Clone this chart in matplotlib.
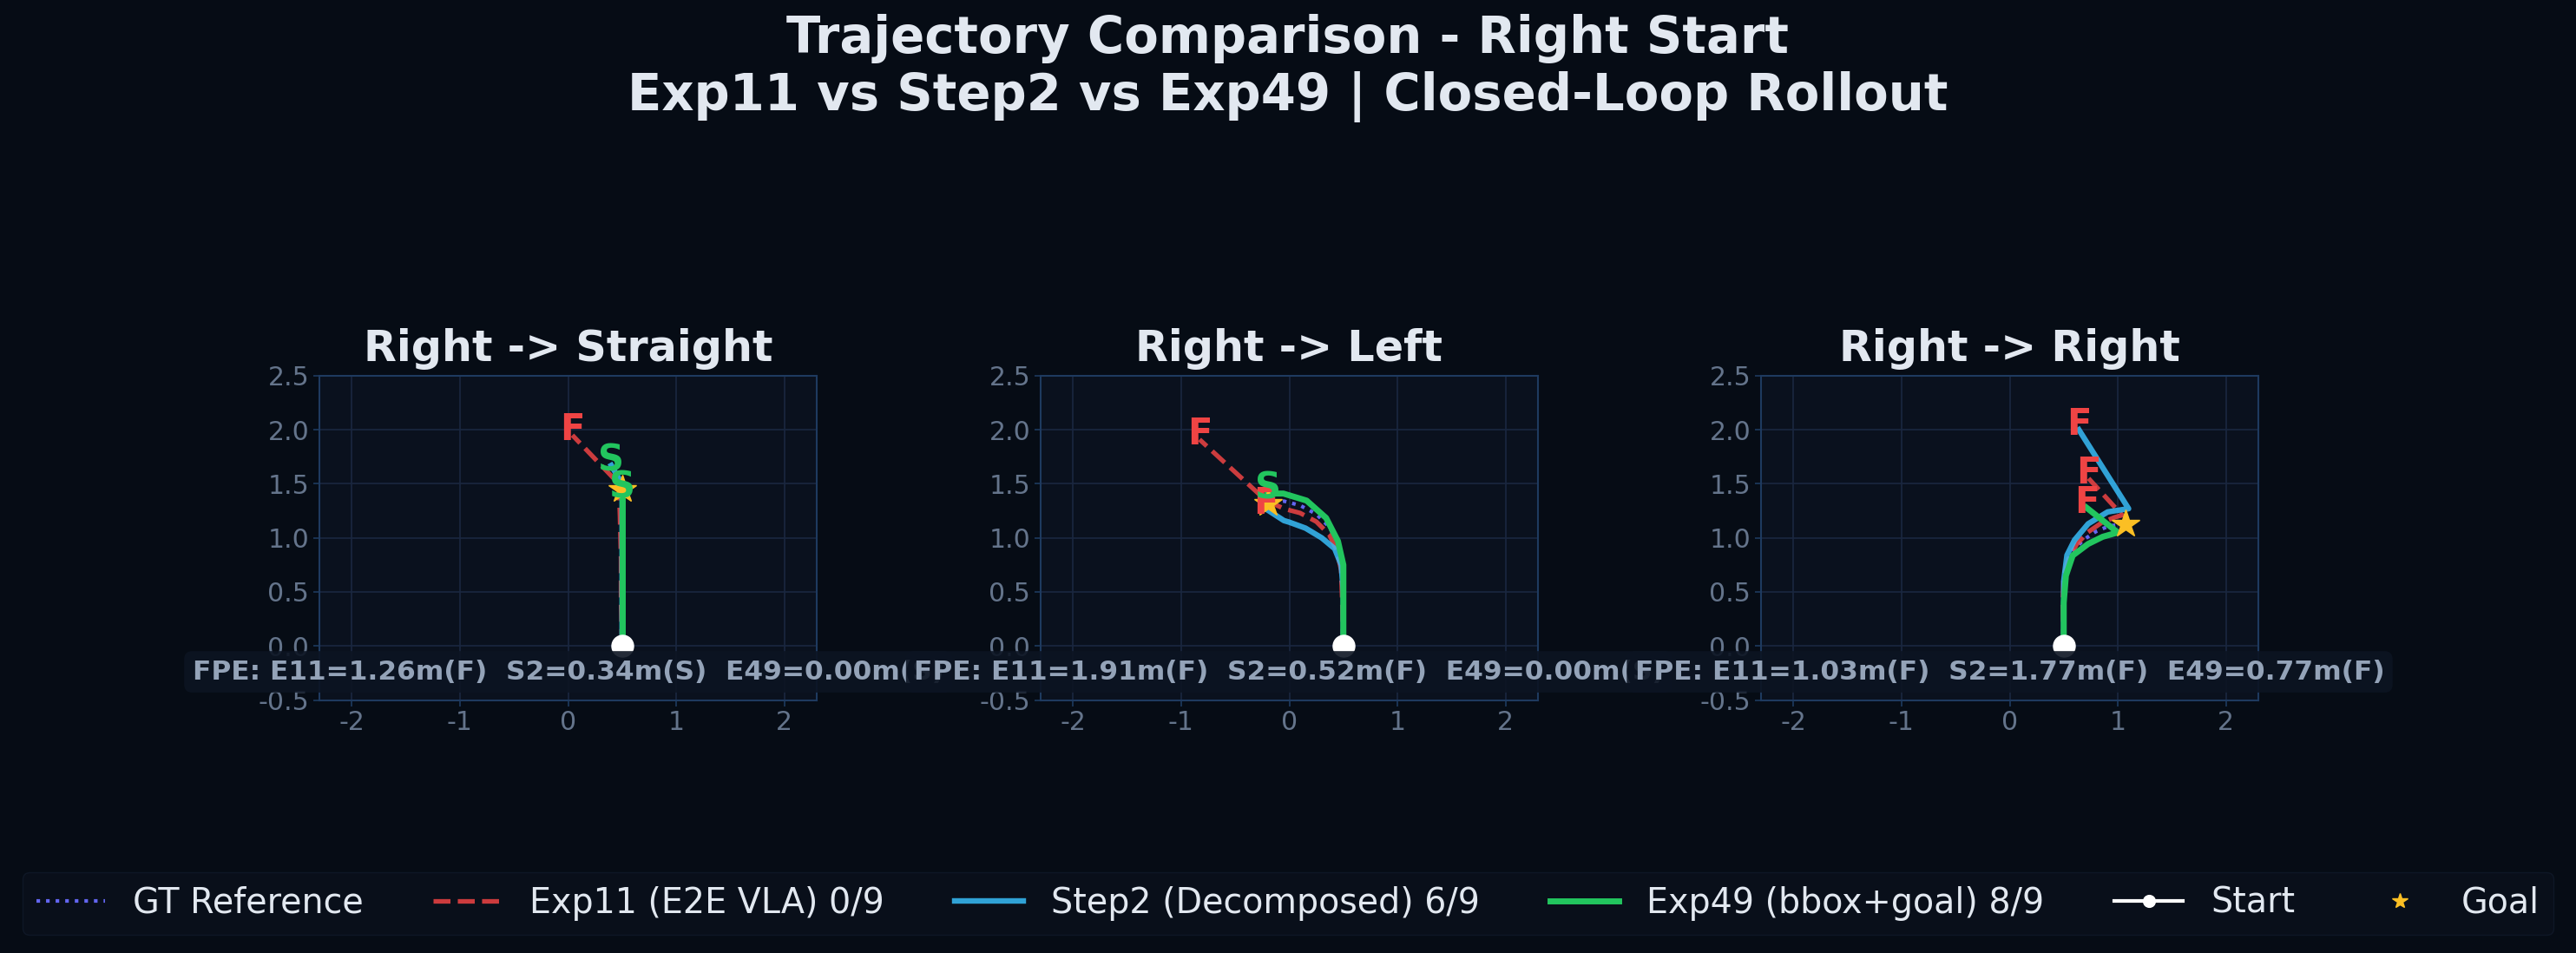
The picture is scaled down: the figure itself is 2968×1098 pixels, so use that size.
import numpy as np
import matplotlib.pyplot as plt

plt.rcParams['font.family'] = ['DejaVu Sans']
plt.rcParams['axes.unicode_minus'] = False

# colours
BG = '#060c15'
AX_BG = '#0a111e'
SPINE = '#1e3a5f'
GRID = '#1a2740'
TXT = '#e2e8f0'
TICK = '#64748b'
C_GT = '#6366f1'
C_E11 = '#ef4444'
C_S2 = '#38bdf8'
C_E49 = '#22c55e'
C_GOAL = '#fbbf24'

titles = ['Right -> Straight', 'Right -> Left', 'Right -> Right']
start = (0.5, 0.0)

# goal points per scenario
goal_x = [0.5, -0.2, 1.07]
goal_y = [1.45, 1.32, 1.13]

# ground truth reference
gt_x = [[0.5, 0.5, 0.5, 0.5],
        [0.5, 0.5, 0.49, 0.45, 0.37, 0.25, 0.10, -0.05, -0.18],
        [0.5, 0.5, 0.52, 0.58, 0.68, 0.80, 0.92, 1.07]]
gt_y = [[0.0, 0.5, 1.0, 1.45],
        [0.0, 0.5, 0.75, 0.95, 1.10, 1.22, 1.30, 1.34, 1.33],
        [0.0, 0.55, 0.72, 0.87, 0.98, 1.06, 1.11, 1.13]]

# Exp11 (E2E VLA)
e11_x = [[0.5, 0.49, 0.49, 0.48, 0.47, 0.04],
         [0.5, 0.49, 0.48, 0.44, 0.37, 0.25, 0.10, -0.05, -0.22, -0.83],
         [0.5, 0.49, 0.50, 0.54, 0.62, 0.72, 0.85, 0.97, 1.04, 0.73]]
e11_y = [[0.0, 0.4, 0.8, 1.2, 1.50, 1.95],
         [0.0, 0.4, 0.70, 0.88, 1.03, 1.15, 1.23, 1.27, 1.35, 1.91],
         [0.0, 0.4, 0.65, 0.80, 0.94, 1.05, 1.14, 1.19, 1.21, 1.55]]
e11_ok = [False, False, False]
e11_fpe = [1.26, 1.91, 1.03]

# Step2 (Decomposed)
s2_x = [[0.5, 0.5, 0.5, 0.5, 0.47, 0.40],
        [0.5, 0.5, 0.48, 0.42, 0.30, 0.15, 0.0, -0.05, -0.22],
        [0.5, 0.5, 0.53, 0.60, 0.726, 0.906, 1.10, 0.64]]
s2_y = [[0.0, 0.5, 1.0, 1.40, 1.55, 1.67],
        [0.0, 0.5, 0.75, 0.90, 1.00, 1.09, 1.145, 1.16, 1.27],
        [0.0, 0.6, 0.84, 0.98, 1.13, 1.24, 1.27, 2.0]]
s2_ok = [True, False, False]
s2_fpe = [0.34, 0.52, 1.77]

# Exp49 (bbox+goal)
e49_x = [[0.5, 0.5, 0.5, 0.5],
         [0.5, 0.5, 0.5, 0.45, 0.34, 0.16, -0.055, -0.2],
         [0.5, 0.5, 0.52, 0.583, 0.726, 0.86, 1.0, 0.71]]
e49_y = [[0.0, 0.5, 1.0, 1.42],
         [0.0, 0.5, 0.75, 0.97, 1.185, 1.345, 1.41, 1.41],
         [0.0, 0.4, 0.65, 0.837, 0.944, 1.01, 1.05, 1.28]]
e49_ok = [True, True, False]
e49_fpe = [0.00, 0.00, 0.77]

fig = plt.figure(figsize=(29.68, 10.98), dpi=100)
fig.patch.set_facecolor(BG)

lefts = [368, 1199, 2029]
axes = []
for i in range(3):
    ax = fig.add_axes([lefts[i] / 2968, 0.2653, 573 / 2968, 0.3406])
    ax.set_facecolor(AX_BG)
    ax.set_xlim(-2.3, 2.3)
    ax.set_ylim(-0.5, 2.5)
    ax.set_aspect('equal')
    ax.grid(True, color=GRID, lw=1.2)
    ax.set_axisbelow(True)
    for s in ax.spines.values():
        s.set_color(SPINE)
        s.set_linewidth(1.5)
    ax.tick_params(colors=SPINE, labelcolor=TICK, labelsize=21.5, length=5, width=1.2)
    ax.set_xticks([-2, -1, 0, 1, 2])
    ax.set_yticks([-0.5, 0.0, 0.5, 1.0, 1.5, 2.0, 2.5])
    ax.set_title(titles[i], color=TXT, fontsize=35.5, fontweight='bold', pad=12)

    ax.plot(gt_x[i], gt_y[i], ':', color=C_GT, lw=3, label='GT Reference', zorder=2)
    ax.plot(e11_x[i], e11_y[i], '--', color=C_E11, lw=3.8, alpha=0.85,
            label='Exp11 (E2E VLA) 0/9', zorder=3)
    ax.plot(s2_x[i], s2_y[i], '-', color=C_S2, lw=4.6, alpha=0.85,
            label='Step2 (Decomposed) 6/9', zorder=4)
    ax.plot(e49_x[i], e49_y[i], '-', color=C_E49, lw=5,
            label='Exp49 (bbox+goal) 8/9', zorder=5)
    ax.plot([start[0]], [start[1]], 'o-', color='white', ms=18, lw=3,
            label='Start', zorder=7)
    ax.plot([goal_x[i]], [goal_y[i]], '*', color=C_GOAL, ms=24, ls='none',
            label='Goal', zorder=6)

    # success / fail tags at the end of each rollout
    for xs, ys, ok in [(e11_x[i], e11_y[i], e11_ok[i]),
                       (s2_x[i], s2_y[i], s2_ok[i]),
                       (e49_x[i], e49_y[i], e49_ok[i])]:
        ax.text(xs[-1], ys[-1] + 0.05, 'S' if ok else 'F',
                color=C_E49 if ok else C_E11, fontsize=30, fontweight='bold',
                ha='center', va='center', zorder=8)

    tag = lambda ok: 'S' if ok else 'F'
    fpe = 'FPE: E11=%.2fm(%s)  S2=%.2fm(%s)  E49=%.2fm(%s)' % (
        e11_fpe[i], tag(e11_ok[i]), s2_fpe[i], tag(s2_ok[i]), e49_fpe[i], tag(e49_ok[i]))
    ax.text(0.5, 0.087, fpe, transform=ax.transAxes, ha='center', va='center',
            fontsize=22.5, fontweight='bold', color='#94a3b8', zorder=10, clip_on=False,
            bbox=dict(boxstyle='round,pad=0.3', facecolor='#0c1422', edgecolor='none', alpha=0.9))
    axes.append(ax)

fig.suptitle('Trajectory Comparison - Right Start\nExp11 vs Step2 vs Exp49 | Closed-Loop Rollout',
             color=TXT, fontsize=41.5, fontweight='bold', y=0.985)

h, l = axes[0].get_legend_handles_labels()
leg = fig.legend(h, l, loc='center', bbox_to_anchor=(0.5, 0.052), ncol=6, fontsize=28.5,
                 frameon=True, facecolor='#0a111c', edgecolor='#111a2a',
                 markerscale=0.55, columnspacing=2.05, labelcolor=TXT)

fig.savefig('out.png', dpi=100, facecolor=BG)
